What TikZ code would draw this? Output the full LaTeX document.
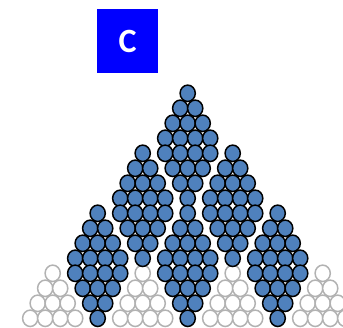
\documentclass[tikz,border=0pt]{standalone}
\usepackage{fontspec}
\setsansfont{Carlito}
\usepackage{xcolor}
\usetikzlibrary{positioning}
\definecolor{packblue}{HTML}{4F81BD}
\definecolor{packgray}{HTML}{B2B2B2}
\definecolor{panelblue}{HTML}{0000FF}

% one diamond of spheres: #1 = axis x, #2 = first row
\newcommand{\packdiamond}[2]{%
  \foreach \k [evaluate=\k as \n using {int(\k<4 ? \k+1 : 8-\k)}] in {0,...,7}{
    \foreach \j in {1,...,\n}{
      \path[ball] ({#1+(\j-(\n+1)/2)*15}, {93.3+15*(#2+\k)}) ellipse [x radius=7.6pt, y radius=8.2pt];
    }
  }%
}
% one faded triangle of spheres: #1 = axis x, #2 = first row
\newcommand{\packtriangle}[2]{%
  \foreach \k [evaluate=\k as \n using {int(\k+1)}] in {0,...,3}{
    \foreach \j in {1,...,\n}{
      \path[ghost] ({#1+(\j-(\n+1)/2)*15}, {93.3+15*(#2+\k)}) ellipse [x radius=7.6pt, y radius=8.2pt];
    }
  }%
}

\begin{document}
\begin{tikzpicture}[
  x=1pt, y=-1pt,
  ball/.style={draw=black, fill=packblue, line width=1.5pt},
  ghost/.style={draw=packgray, fill=white, line width=1.5pt},
  panel/.style={fill=panelblue, text=white, minimum width=61.6pt, minimum height=64pt,
    inner sep=0pt, font=\sffamily\bfseries\fontsize{34}{34}\selectfont}
]
  \useasboundingbox (0,0) rectangle (343,328);
  \clip (0,0) rectangle (343,328);

  % Panel label
  \node[panel] (label) at (127.5,41.3) {C};

  % Faded base triangles
  \foreach \ax in {52.7,142.7,232.7,322.7}{
    \packtriangle{\ax}{12}
  }

  % Stacked diamonds, top to bottom
  \packdiamond{187.7}{0}
  \packdiamond{142.7}{4}
  \packdiamond{232.7}{4}
  \foreach \ax in {97.7,187.7,277.7}{
    \packdiamond{\ax}{8}
  }

\end{tikzpicture}
\end{document}
